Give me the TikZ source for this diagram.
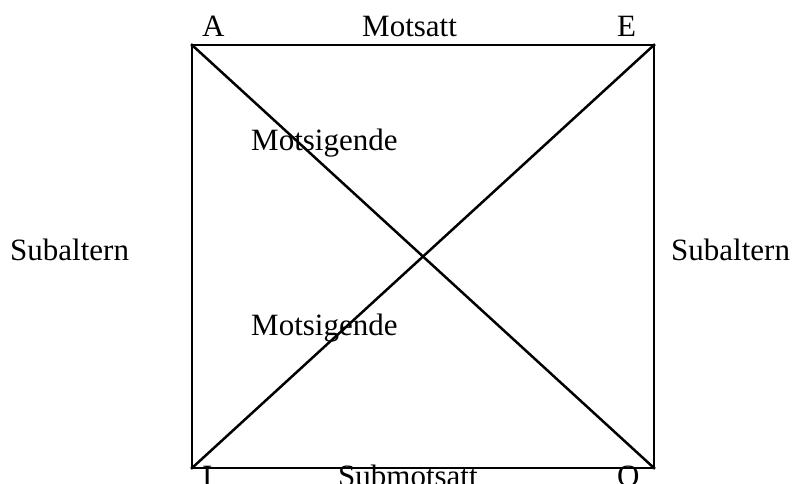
\documentclass[tikz,border=0pt]{standalone}
\usepackage{fontspec}
\setmainfont{Liberation Serif}
\usetikzlibrary{positioning}

\begin{document}
\begin{tikzpicture}[
    x=1pt, y=-1pt,
    side/.style={line width=2.5pt, line cap=rect},
    lbl/.style={font=\fontsize{31}{37}\selectfont, inner sep=0pt, anchor=base west},
]
\useasboundingbox (0,0) rectangle (806,484);
\clip (0,0) rectangle (806,484);

% corners of the square
\coordinate (A) at (192,45);
\coordinate (E) at (654,45);
\coordinate (I) at (192,468);
\coordinate (O) at (654,468);

% ===== LABELS =====
\node[lbl] (lblA) at (202,37) {A};
\node[lbl] (motsatt) at (362,37) {Motsatt};
\node[lbl] (lblE) at (617,37) {E};
\node[lbl] (subleft) at (10,260) {Subaltern};
\node[lbl] (subright) at (671,260) {Subaltern};
\node[lbl] (motsig1) at (251,150) {Motsigende};
\node[lbl] (motsig2) at (251,335) {Motsigende};
\node[lbl] (lblI) at (202,486) {I};
\node[lbl] (submotsatt) at (338,486) {Submotsatt};
\node[lbl] (lblO) at (617,486) {O};

% ===== SQUARE AND DIAGONALS =====
\draw[side] (A) -- (E) -- (O) -- (I) -- cycle;
\draw[side] (A) -- (O);
\draw[side] (I) -- (E);

\end{tikzpicture}
\end{document}
